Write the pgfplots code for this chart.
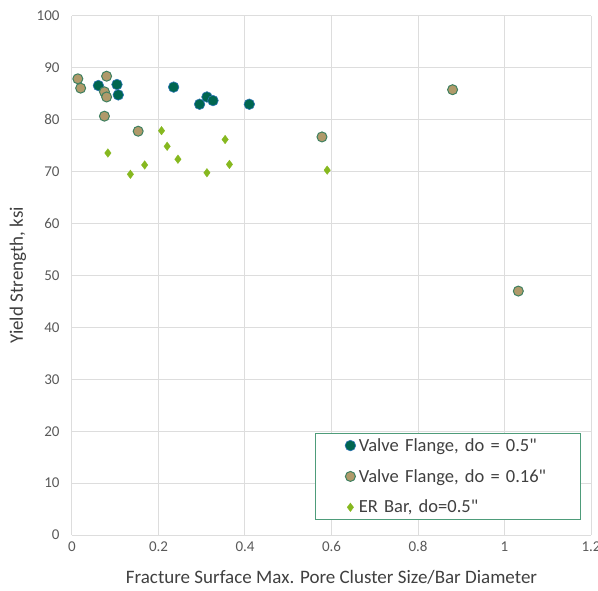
\documentclass[border=0pt]{standalone}
\usepackage{pgfplots}
\pgfplotsset{compat=1.18}
\usepackage{fontspec}
\setmainfont{Carlito}
\newfontfamily\qfont{Carlito}
\definecolor{gridc}{HTML}{DDDDDD}
\definecolor{tickc}{HTML}{595959}
\definecolor{labc}{HTML}{404040}
\definecolor{dkgreen}{HTML}{006650}
\definecolor{dkedge}{HTML}{2E75B6}
\definecolor{tanf}{HTML}{B09A6A}
\definecolor{tanedge}{HTML}{3F8060}
\definecolor{ltgreen}{HTML}{86B81F}
\definecolor{legedge}{HTML}{4E9C7A}
\newcommand{\qd}{{\qfont\symbol{34}}}
\begin{document}
\begin{tikzpicture}
\useasboundingbox (-72pt,-55pt) rectangle (526pt,535pt);
\begin{axis}[
  scale only axis, width=519pt, height=519pt,
  xmin=0, xmax=1.2, ymin=0, ymax=100,
  xtick={0,0.2,...,1.2}, ytick={0,10,...,100},
  xticklabels={0,0.2,0.4,0.6,0.8,1,1.2},
  grid=major, major grid style={gridc, line width=1pt},
  axis lines*=left,
  x axis line style={gridc, line width=1pt},
  y axis line style={draw=none},
  tick style={draw=none},
  ticklabel style={font=\fontsize{15}{17}\selectfont, text=tickc},
  /pgf/number format/assume math mode=true,
  xticklabel style={yshift=-3pt},
  yticklabel style={xshift=-9pt},
  xlabel={Fracture Surface Max. Pore Cluster Size/Bar Diameter},
  ylabel={Yield Strength, ksi},
  label style={font=\fontsize{19}{21}\selectfont, text=labc},
  xlabel style={at={(axis description cs:0.5,-0.081)}, anchor=center},
  ylabel style={at={(axis description cs:-0.104,0.5)}, anchor=center},
  legend cell align=left,
  legend style={at={(axis description cs:0.469,0.029)}, anchor=south west,
    draw=legedge, line width=1pt, fill=white,
    font=\fontsize{18.5}{20}\selectfont, text=labc,
    row sep=12.5pt, inner xsep=10pt, inner ysep=3pt,
    nodes={text width=210pt}},
  legend image code/.code={\path (0pt,0pt) (30pt,0pt); \draw[#1] plot coordinates {(24pt,0pt)};},
]
\addplot[only marks, mark=*, mark size=5.3pt, fill=dkgreen, draw=dkedge, line width=0.6pt] table {
x y
0.061 86.6
0.104 86.8
0.107 84.8
0.235 86.3
0.295 83.0
0.312 84.4
0.326 83.7
0.410 83.0
};
\addlegendentry{Valve Flange, do = 0.5\qd}
\addplot[only marks, mark=*, mark size=5pt, fill=tanf, draw=tanedge, line width=1pt] table {
x y
0.0135 87.9
0.020 86.1
0.080 88.4
0.075 85.4
0.080 84.4
0.075 80.7
0.153 77.8
0.578 76.7
0.880 85.8
1.032 47.0
};
\addlegendentry{Valve Flange, do = 0.16\qd}
\addplot[only marks, mark=diamond*, mark size=4.3pt, fill=ltgreen, draw=ltgreen, line width=0.3pt] table {
x y
0.083 73.6
0.135 69.5
0.168 71.3
0.207 77.9
0.220 74.9
0.245 72.4
0.312 69.8
0.354 76.2
0.364 71.4
0.590 70.3
};
\addlegendentry{ER Bar, do=0.5\qd}
\end{axis}
\end{tikzpicture}
\end{document}
